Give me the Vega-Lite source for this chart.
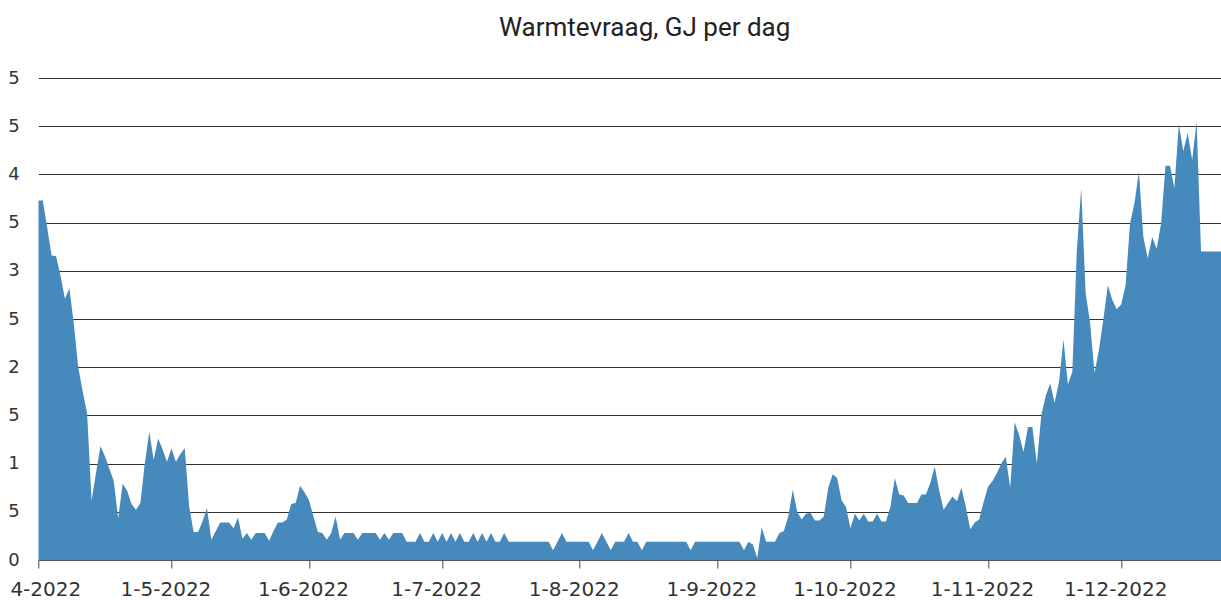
{
  "$schema": "https://vega.github.io/schema/vega-lite/v6.json",
  "width": 1182.7,
  "height": 482,
  "autosize": {"type": "none"},
  "padding": {"left": 38.3, "top": 78, "right": 0, "bottom": 40},
  "background": "white",
  "title": {
    "text": "Warmtevraag, GJ per dag",
    "font": "Roboto",
    "fontSize": 26,
    "fontWeight": "normal",
    "color": "#222222",
    "anchor": "middle",
    "baseline": "alphabetic",
    "offset": 7,
    "dx": 15
  },
  "data": {
    "values": [
      {"d":"2022-04-01","v":3.73},{"d":"2022-04-02","v":3.73},{"d":"2022-04-03","v":3.45},{"d":"2022-04-04","v":3.16},{"d":"2022-04-05","v":3.15},
      {"d":"2022-04-06","v":2.95},{"d":"2022-04-07","v":2.71},{"d":"2022-04-08","v":2.82},{"d":"2022-04-09","v":2.45},{"d":"2022-04-10","v":2.0},
      {"d":"2022-04-11","v":1.75},{"d":"2022-04-12","v":1.52},{"d":"2022-04-13","v":0.62},{"d":"2022-04-14","v":0.9},{"d":"2022-04-15","v":1.18},
      {"d":"2022-04-16","v":1.08},{"d":"2022-04-17","v":0.95},{"d":"2022-04-18","v":0.82},{"d":"2022-04-19","v":0.43},{"d":"2022-04-20","v":0.79},
      {"d":"2022-04-21","v":0.72},{"d":"2022-04-22","v":0.58},{"d":"2022-04-23","v":0.52},{"d":"2022-04-24","v":0.59},{"d":"2022-04-25","v":1.0},
      {"d":"2022-04-26","v":1.33},{"d":"2022-04-27","v":1.04},{"d":"2022-04-28","v":1.26},{"d":"2022-04-29","v":1.15},{"d":"2022-04-30","v":1.02},
      {"d":"2022-05-01","v":1.16},{"d":"2022-05-02","v":1.02},{"d":"2022-05-03","v":1.1},{"d":"2022-05-04","v":1.16},{"d":"2022-05-05","v":0.55},
      {"d":"2022-05-06","v":0.29},{"d":"2022-05-07","v":0.29},{"d":"2022-05-08","v":0.4},{"d":"2022-05-09","v":0.54},{"d":"2022-05-10","v":0.21},
      {"d":"2022-05-11","v":0.3},{"d":"2022-05-12","v":0.39},{"d":"2022-05-13","v":0.39},{"d":"2022-05-14","v":0.39},{"d":"2022-05-15","v":0.33},
      {"d":"2022-05-16","v":0.44},{"d":"2022-05-17","v":0.22},{"d":"2022-05-18","v":0.28},{"d":"2022-05-19","v":0.21},{"d":"2022-05-20","v":0.28},
      {"d":"2022-05-21","v":0.28},{"d":"2022-05-22","v":0.28},{"d":"2022-05-23","v":0.2},{"d":"2022-05-24","v":0.3},{"d":"2022-05-25","v":0.39},
      {"d":"2022-05-26","v":0.39},{"d":"2022-05-27","v":0.42},{"d":"2022-05-28","v":0.58},{"d":"2022-05-29","v":0.59},{"d":"2022-05-30","v":0.77},
      {"d":"2022-05-31","v":0.7},
      {"d":"2022-06-01","v":0.62},{"d":"2022-06-02","v":0.45},{"d":"2022-06-03","v":0.29},{"d":"2022-06-04","v":0.28},{"d":"2022-06-05","v":0.21},
      {"d":"2022-06-06","v":0.28},{"d":"2022-06-07","v":0.45},{"d":"2022-06-08","v":0.21},{"d":"2022-06-09","v":0.28},{"d":"2022-06-10","v":0.28},
      {"d":"2022-06-11","v":0.28},{"d":"2022-06-12","v":0.21},{"d":"2022-06-13","v":0.28},{"d":"2022-06-14","v":0.28},{"d":"2022-06-15","v":0.28},
      {"d":"2022-06-16","v":0.28},{"d":"2022-06-17","v":0.21},{"d":"2022-06-18","v":0.28},{"d":"2022-06-19","v":0.21},{"d":"2022-06-20","v":0.28},
      {"d":"2022-06-21","v":0.28},{"d":"2022-06-22","v":0.28},{"d":"2022-06-23","v":0.19},{"d":"2022-06-24","v":0.19},{"d":"2022-06-25","v":0.19},
      {"d":"2022-06-26","v":0.28},{"d":"2022-06-27","v":0.19},{"d":"2022-06-28","v":0.19},{"d":"2022-06-29","v":0.28},{"d":"2022-06-30","v":0.19},
      {"d":"2022-07-01","v":0.28},{"d":"2022-07-02","v":0.19},{"d":"2022-07-03","v":0.28},{"d":"2022-07-04","v":0.19},{"d":"2022-07-05","v":0.28},
      {"d":"2022-07-06","v":0.19},{"d":"2022-07-07","v":0.19},{"d":"2022-07-08","v":0.28},{"d":"2022-07-09","v":0.19},{"d":"2022-07-10","v":0.28},
      {"d":"2022-07-11","v":0.19},{"d":"2022-07-12","v":0.28},{"d":"2022-07-13","v":0.19},{"d":"2022-07-14","v":0.19},{"d":"2022-07-15","v":0.28},
      {"d":"2022-07-16","v":0.19},{"d":"2022-07-17","v":0.19},{"d":"2022-07-18","v":0.19},{"d":"2022-07-19","v":0.19},{"d":"2022-07-20","v":0.19},
      {"d":"2022-07-21","v":0.19},{"d":"2022-07-22","v":0.19},{"d":"2022-07-23","v":0.19},{"d":"2022-07-24","v":0.19},{"d":"2022-07-25","v":0.19},
      {"d":"2022-07-26","v":0.1},{"d":"2022-07-27","v":0.19},{"d":"2022-07-28","v":0.28},{"d":"2022-07-29","v":0.19},{"d":"2022-07-30","v":0.19},
      {"d":"2022-07-31","v":0.19},
      {"d":"2022-08-01","v":0.19},{"d":"2022-08-02","v":0.19},{"d":"2022-08-03","v":0.19},{"d":"2022-08-04","v":0.1},{"d":"2022-08-05","v":0.19},
      {"d":"2022-08-06","v":0.28},{"d":"2022-08-07","v":0.19},{"d":"2022-08-08","v":0.1},{"d":"2022-08-09","v":0.19},{"d":"2022-08-10","v":0.19},
      {"d":"2022-08-11","v":0.19},{"d":"2022-08-12","v":0.28},{"d":"2022-08-13","v":0.19},{"d":"2022-08-14","v":0.19},{"d":"2022-08-15","v":0.1},
      {"d":"2022-08-16","v":0.19},{"d":"2022-08-17","v":0.19},{"d":"2022-08-18","v":0.19},{"d":"2022-08-19","v":0.19},{"d":"2022-08-20","v":0.19},
      {"d":"2022-08-21","v":0.19},{"d":"2022-08-22","v":0.19},{"d":"2022-08-23","v":0.19},{"d":"2022-08-24","v":0.19},{"d":"2022-08-25","v":0.19},
      {"d":"2022-08-26","v":0.1},{"d":"2022-08-27","v":0.19},{"d":"2022-08-28","v":0.19},{"d":"2022-08-29","v":0.19},{"d":"2022-08-30","v":0.19},
      {"d":"2022-08-31","v":0.19},
      {"d":"2022-09-01","v":0.19},{"d":"2022-09-02","v":0.19},{"d":"2022-09-03","v":0.19},{"d":"2022-09-04","v":0.19},{"d":"2022-09-05","v":0.19},
      {"d":"2022-09-06","v":0.19},{"d":"2022-09-07","v":0.1},{"d":"2022-09-08","v":0.19},{"d":"2022-09-09","v":0.16},{"d":"2022-09-10","v":0.02},
      {"d":"2022-09-11","v":0.34},{"d":"2022-09-12","v":0.19},{"d":"2022-09-13","v":0.19},{"d":"2022-09-14","v":0.19},{"d":"2022-09-15","v":0.28},
      {"d":"2022-09-16","v":0.3},{"d":"2022-09-17","v":0.45},{"d":"2022-09-18","v":0.73},{"d":"2022-09-19","v":0.5},{"d":"2022-09-20","v":0.42},
      {"d":"2022-09-21","v":0.48},{"d":"2022-09-22","v":0.49},{"d":"2022-09-23","v":0.41},{"d":"2022-09-24","v":0.41},{"d":"2022-09-25","v":0.45},
      {"d":"2022-09-26","v":0.75},{"d":"2022-09-27","v":0.89},{"d":"2022-09-28","v":0.85},{"d":"2022-09-29","v":0.62},{"d":"2022-09-30","v":0.55},
      {"d":"2022-10-01","v":0.33},{"d":"2022-10-02","v":0.48},{"d":"2022-10-03","v":0.41},{"d":"2022-10-04","v":0.48},{"d":"2022-10-05","v":0.4},
      {"d":"2022-10-06","v":0.4},{"d":"2022-10-07","v":0.48},{"d":"2022-10-08","v":0.4},{"d":"2022-10-09","v":0.4},{"d":"2022-10-10","v":0.55},
      {"d":"2022-10-11","v":0.85},{"d":"2022-10-12","v":0.68},{"d":"2022-10-13","v":0.67},{"d":"2022-10-14","v":0.59},{"d":"2022-10-15","v":0.59},
      {"d":"2022-10-16","v":0.59},{"d":"2022-10-17","v":0.68},{"d":"2022-10-18","v":0.68},{"d":"2022-10-19","v":0.8},{"d":"2022-10-20","v":0.97},
      {"d":"2022-10-21","v":0.72},{"d":"2022-10-22","v":0.52},{"d":"2022-10-23","v":0.59},{"d":"2022-10-24","v":0.66},{"d":"2022-10-25","v":0.61},
      {"d":"2022-10-26","v":0.75},{"d":"2022-10-27","v":0.55},{"d":"2022-10-28","v":0.32},{"d":"2022-10-29","v":0.39},{"d":"2022-10-30","v":0.42},
      {"d":"2022-10-31","v":0.6},
      {"d":"2022-11-01","v":0.76},{"d":"2022-11-02","v":0.82},{"d":"2022-11-03","v":0.9},{"d":"2022-11-04","v":1.0},{"d":"2022-11-05","v":1.07},
      {"d":"2022-11-06","v":0.75},{"d":"2022-11-07","v":1.43},{"d":"2022-11-08","v":1.3},{"d":"2022-11-09","v":1.12},{"d":"2022-11-10","v":1.38},
      {"d":"2022-11-11","v":1.38},{"d":"2022-11-12","v":1.0},{"d":"2022-11-13","v":1.5},{"d":"2022-11-14","v":1.7},{"d":"2022-11-15","v":1.83},
      {"d":"2022-11-16","v":1.63},{"d":"2022-11-17","v":1.85},{"d":"2022-11-18","v":2.29},{"d":"2022-11-19","v":1.82},{"d":"2022-11-20","v":1.95},
      {"d":"2022-11-21","v":3.2},{"d":"2022-11-22","v":3.86},{"d":"2022-11-23","v":2.77},{"d":"2022-11-24","v":2.46},{"d":"2022-11-25","v":1.94},
      {"d":"2022-11-26","v":2.18},{"d":"2022-11-27","v":2.5},{"d":"2022-11-28","v":2.85},{"d":"2022-11-29","v":2.7},{"d":"2022-11-30","v":2.6},
      {"d":"2022-12-01","v":2.65},{"d":"2022-12-02","v":2.85},{"d":"2022-12-03","v":3.49},{"d":"2022-12-04","v":3.7},{"d":"2022-12-05","v":4.03},
      {"d":"2022-12-06","v":3.35},{"d":"2022-12-07","v":3.13},{"d":"2022-12-08","v":3.35},{"d":"2022-12-09","v":3.23},{"d":"2022-12-10","v":3.49},
      {"d":"2022-12-11","v":4.09},{"d":"2022-12-12","v":4.09},{"d":"2022-12-13","v":3.86},{"d":"2022-12-14","v":4.52},{"d":"2022-12-15","v":4.24},
      {"d":"2022-12-16","v":4.43},{"d":"2022-12-17","v":4.15},{"d":"2022-12-18","v":4.55},{"d":"2022-12-19","v":3.2},{"d":"2022-12-20","v":3.2},
      {"d":"2022-12-21","v":3.2},{"d":"2022-12-22","v":3.2},{"d":"2022-12-23","v":3.2},{"d":"2022-12-24","v":3.2},{"d":"2022-12-25","v":3.2},
      {"d":"2022-12-26","v":3.2},{"d":"2022-12-27","v":3.2},{"d":"2022-12-28","v":3.2},{"d":"2022-12-29","v":3.2},{"d":"2022-12-30","v":3.2},
      {"d":"2022-12-31","v":3.2}
    ]
  },
  "mark": {"type": "area", "color": "#4589bd", "interpolate": "linear", "clip": true},
  "encoding": {
    "x": {
      "field": "d",
      "type": "temporal",
      "title": null,
      "scale": {"type": "utc", "domain": [1648771200000, 1671796800000]},
      "axis": {
        "tickCount": {"interval": "month", "step": 1},
        "labelExpr": "utcmonth(datum.value) === 3 ? '4-2022' : utcFormat(datum.value, '%-d-%-m-%Y')",
        "grid": false,
        "domain": true,
        "domainColor": "#555555",
        "domainWidth": 1,
        "ticks": true,
        "tickColor": "#444444",
        "tickSize": 8,
        "labelFont": "DejaVu Sans",
        "labelFontSize": 20,
        "labelColor": "#333333",
        "labelFlush": false,
        "labelOverlap": false,
        "labelOffset": {"condition": {"test": "utcmonth(datum.value) === 3", "value": 7}, "value": -6},
        "labelPadding": 11
      }
    },
    "y": {
      "field": "v",
      "type": "quantitative",
      "title": null,
      "scale": {"domain": [0, 5], "nice": false, "zero": true},
      "axis": {
        "values": [0, 0.5, 1, 1.5, 2, 2.5, 3, 3.5, 4, 4.5, 5],
        "labelExpr": "datum.value % 1 === 0 ? format(datum.value, 'd') : '5'",
        "grid": true,
        "gridColor": "#333333",
        "gridWidth": 1,
        "domain": false,
        "ticks": false,
        "labelFont": "DejaVu Sans",
        "labelFontSize": 18,
        "labelColor": "#333333",
        "labelPadding": 19
      }
    }
  },
  "config": {"view": {"stroke": null}}
}
